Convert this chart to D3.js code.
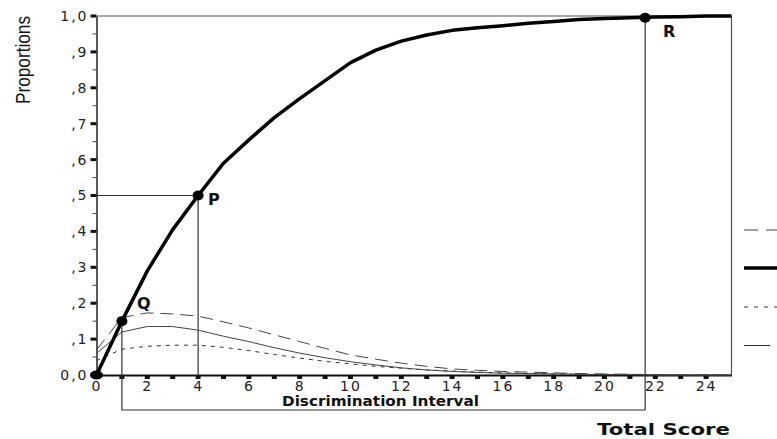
<!DOCTYPE html>
<html>
<head>
<meta charset="utf-8">
<script src="https://cdn.jsdelivr.net/npm/d3@7"></script>
<style>
  body { margin: 0; background: #fff; }
  svg { display: block; }
</style>
</head>
<body>
<script>
const width = 777;
const height = 439;

// total score values on the x axis
const scores = [0, 1, 2, 3, 4, 5, 6, 7, 8, 9, 10, 11, 12, 13, 14, 15, 16, 17, 18, 19, 20, 21, 22, 23, 24, 25];
// thick curve: cumulative proportion
const cumulative = [0, 0.15, 0.29, 0.405, 0.5, 0.59, 0.655, 0.717, 0.77, 0.82, 0.87, 0.905, 0.93, 0.947, 0.96, 0.967, 0.973, 0.98, 0.985, 0.99, 0.993, 0.995, 0.997, 0.998, 1.0, 1.0];
// long dashed curve
const longDash = [0.07, 0.16, 0.173, 0.17, 0.164, 0.148, 0.131, 0.112, 0.093, 0.074, 0.056, 0.044, 0.033, 0.024, 0.017, 0.013, 0.01, 0.008, 0.006, 0.004, 0.003, 0.002, 0.001, 0, 0, 0];
// thin solid curve
const thinSolid = [0.06, 0.12, 0.135, 0.135, 0.125, 0.108, 0.093, 0.076, 0.061, 0.048, 0.037, 0.028, 0.02, 0.014, 0.01, 0.007, 0.005, 0.004, 0.003, 0.002, 0.001, 0.001, 0, 0, 0, 0];
// short dashed curve
const shortDash = [0.04, 0.072, 0.08, 0.083, 0.083, 0.077, 0.068, 0.057, 0.047, 0.038, 0.031, 0.024, 0.019, 0.014, 0.011, 0.008, 0.006, 0.004, 0.003, 0.002, 0.001, 0.001, 0, 0, 0, 0];

const xTicks = [0, 2, 4, 6, 8, 10, 12, 14, 16, 18, 20, 22, 24];
const yTicks = [0, 0.1, 0.2, 0.3, 0.4, 0.5, 0.6, 0.7, 0.8, 0.9, 1.0];

// marked points on the cumulative curve
const markNames = ["", "Q", "P", "R"];
const markX = [0, 1, 4, 21.6];
const markY = [0, 0.15, 0.5, 0.995];
const intervalStart = 1;
const intervalEnd = 21.6;

const x = d3.scaleLinear().domain([0, 25]).range([96.5, 731.5]);
const y = d3.scaleLinear().domain([0, 1]).range([375, 16]);

const svg = d3.select("body")
    .append("svg")
    .attr("width", width)
    .attr("height", height);

const labelFont = "'DejaVu Sans', Verdana, sans-serif";

// frame: top and right edges
svg.append("line")
    .attr("x1", x(0)).attr("x2", x(25))
    .attr("y1", y(1)).attr("y2", y(1))
    .attr("stroke", "#555").attr("stroke-width", 1.2);
svg.append("line")
    .attr("x1", x(25)).attr("x2", x(25))
    .attr("y1", y(1)).attr("y2", y(0))
    .attr("stroke", "#555").attr("stroke-width", 1.2);

// y axis
const yAxis = d3.axisLeft(y)
    .tickValues(yTicks)
    .tickSize(0)
    .tickPadding(8)
    .tickFormat(d => {
        if (d === 0) return "0,0";
        if (d === 1) return "1,0";
        return "," + Math.round(d * 10);
    });
const gy = svg.append("g")
    .attr("transform", `translate(${x(0)},0)`)
    .call(yAxis);
gy.select(".domain").attr("stroke", "#222").attr("stroke-width", 1.5);
gy.selectAll("text")
    .attr("font-family", labelFont)
    .attr("font-size", 14)
    .attr("letter-spacing", 2)
    .attr("fill", "#222");

// y major and minor tick marks
yTicks.forEach(v => {
    svg.append("rect")
        .attr("x", x(0) - 6).attr("y", y(v) - 1.5)
        .attr("width", 6).attr("height", 3)
        .attr("fill", "#111");
});
for (let i = 0; i < 10; i++) {
    const v = i / 10 + 0.05;
    svg.append("line")
        .attr("x1", x(0) - 4).attr("x2", x(0))
        .attr("y1", y(v)).attr("y2", y(v))
        .attr("stroke", "#444").attr("stroke-width", 1);
}

// x axis
const xAxis = d3.axisBottom(x)
    .tickValues(xTicks)
    .tickSize(0)
    .tickPadding(6)
    .tickFormat(d => d);
const gx = svg.append("g")
    .attr("transform", `translate(0,${y(0)})`)
    .call(xAxis);
gx.select(".domain").attr("stroke", "#111").attr("stroke-width", 2);
gx.selectAll("text")
    .attr("font-family", labelFont)
    .attr("font-size", 14)
    .attr("letter-spacing", 2)
    .attr("fill", "#222");

// square tick marks at every score
scores.slice(1, 25).forEach(s => {
    svg.append("rect")
        .attr("x", x(s) - 2.5).attr("y", y(0))
        .attr("width", 5).attr("height", 4)
        .attr("fill", "#111");
});

// reference lines for P
svg.append("line")
    .attr("x1", x(0)).attr("x2", x(markX[2]))
    .attr("y1", y(markY[2])).attr("y2", y(markY[2]))
    .attr("stroke", "#333").attr("stroke-width", 1.2);
svg.append("line")
    .attr("x1", x(markX[2])).attr("x2", x(markX[2]))
    .attr("y1", y(markY[2])).attr("y2", y(0))
    .attr("stroke", "#333").attr("stroke-width", 1.2);

// discrimination interval box, hanging below the axis from Q to R
const boxBottom = 410;
svg.append("path")
    .attr("d", `M${x(intervalStart)},${y(markY[1])} V${boxBottom} H${x(intervalEnd)} V${y(markY[3])}`)
    .attr("fill", "none")
    .attr("stroke", "#333").attr("stroke-width", 1.2);
svg.append("text")
    .attr("x", 282).attr("y", 405.5)
    .attr("font-family", labelFont)
    .attr("font-weight", "bold")
    .attr("font-size", 13.5)
    .attr("textLength", 197)
    .attr("lengthAdjust", "spacingAndGlyphs")
    .attr("fill", "#111")
    .text("Discrimination Interval");

// curves
const line = vals => d3.line()
    .x((d, i) => x(scores[i]))
    .y(d => y(d))(vals);

svg.append("path")
    .attr("d", line(shortDash))
    .attr("fill", "none").attr("stroke", "#333")
    .attr("stroke-width", 1).attr("stroke-dasharray", "4,5");
svg.append("path")
    .attr("d", line(thinSolid))
    .attr("fill", "none").attr("stroke", "#444")
    .attr("stroke-width", 1);
svg.append("path")
    .attr("d", line(longDash))
    .attr("fill", "none").attr("stroke", "#444")
    .attr("stroke-width", 1).attr("stroke-dasharray", "13,7");
svg.append("path")
    .attr("d", line(cumulative))
    .attr("fill", "none").attr("stroke", "#000")
    .attr("stroke-width", 3.5).attr("stroke-linejoin", "round");

// dots on the cumulative curve
markX.forEach((mx, i) => {
    svg.append("ellipse")
        .attr("cx", x(mx)).attr("cy", y(markY[i]))
        .attr("rx", i === 0 ? 6.5 : 5.5)
        .attr("ry", i === 0 ? 4.5 : 5)
        .attr("fill", "#000");
});

// point labels
const labelPos = [null, [137, 309], [208, 205], [663, 37]];
markNames.forEach((name, i) => {
    if (!labelPos[i]) return;
    svg.append("text")
        .attr("x", labelPos[i][0]).attr("y", labelPos[i][1])
        .attr("font-family", labelFont)
        .attr("font-weight", "bold")
        .attr("font-size", 16)
        .attr("fill", "#111")
        .text(name);
});

// axis titles
svg.append("text")
    .attr("transform", "translate(30,60) rotate(-90)")
    .attr("text-anchor", "middle")
    .attr("font-family", "'Liberation Sans Narrow', 'Liberation Sans', Arial, sans-serif")
    .attr("font-size", 20)
    .attr("textLength", 88)
    .attr("lengthAdjust", "spacingAndGlyphs")
    .attr("fill", "#111")
    .text("Proportions");

svg.append("text")
    .attr("x", 597).attr("y", 435)
    .attr("font-family", labelFont)
    .attr("font-weight", "bold")
    .attr("font-size", 15.5)
    .attr("textLength", 133)
    .attr("lengthAdjust", "spacingAndGlyphs")
    .attr("fill", "#111")
    .text("Total Score");

// legend strokes at the right edge (cut off by the frame of the picture)
const legendY = [230, 268, 307, 345.5];
const legendStyle = [
    { w: 1, dash: "14,8", c: "#444", end: 790 },
    { w: 3.5, dash: null, c: "#000", end: 790 },
    { w: 1, dash: "4,6", c: "#333", end: 790 },
    { w: 1, dash: null, c: "#333", end: 770 }
];
legendY.forEach((ly, i) => {
    const st = legendStyle[i];
    svg.append("line")
        .attr("x1", 744).attr("x2", st.end)
        .attr("y1", ly).attr("y2", ly)
        .attr("stroke", st.c).attr("stroke-width", st.w)
        .attr("stroke-dasharray", st.dash);
});
</script>
</body>
</html>
